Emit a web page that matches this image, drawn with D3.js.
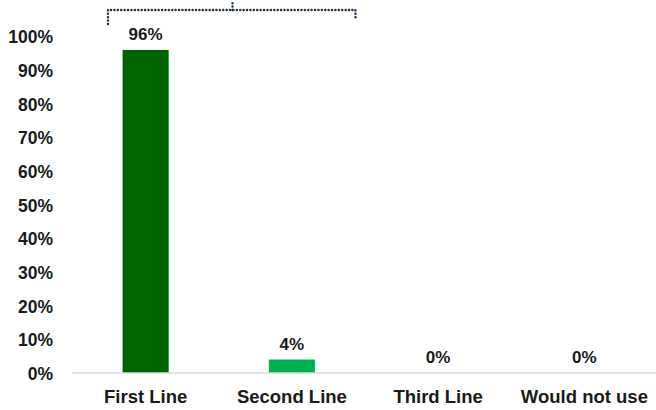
<!DOCTYPE html>
<html>
<head>
<meta charset="utf-8">
<script src="https://cdn.jsdelivr.net/npm/d3@7"></script>
<style>
  body { margin: 0; background: #fff; }
  text { font-family: "Liberation Sans", Arial, sans-serif; font-weight: bold; fill: #1a1a1a; }
</style>
</head>
<body>
<svg id="chart" width="656" height="410"></svg>
<script>
// chart data
var categories = ["First Line", "Second Line", "Third Line", "Would not use"];
var values = [96, 4, 0, 0];
var barColors = ["#006400", "#00b050", "#00b050", "#00b050"];
var yTicks = [0, 10, 20, 30, 40, 50, 60, 70, 80, 90, 100];

var svg = d3.select("#chart"),
    mLeft = 72.5, mRight = 657.5,
    mTop = 36.5, mBottom = 373;

var x = d3.scaleBand()
  .domain(categories)
  .range([mLeft, mRight])
  .paddingInner(0.685)
  .paddingOuter(0.3425);

var y = d3.scaleLinear().domain([0, 100]).range([mBottom, mTop]);

// y tick labels (no axis line)
var yAxis = d3.axisLeft(y)
  .tickValues(yTicks)
  .tickSize(0)
  .tickPadding(0)
  .tickFormat(function(d) { return d + "%"; });

var gy = svg.append("g").attr("transform", "translate(53,0)").call(yAxis);
gy.select(".domain").remove();
gy.selectAll("text").style("font-size", "17.5px").attr("dy", "0.36em");

// bars
svg.selectAll("rect.bar")
  .data(values)
  .enter().append("rect")
  .attr("class", "bar")
  .attr("x", function(d, i) { return x(categories[i]); })
  .attr("width", x.bandwidth())
  .attr("y", function(d) { return y(d); })
  .attr("height", function(d) { return mBottom - y(d); })
  .attr("fill", function(d, i) { return barColors[i]; });

// baseline
var xAxis = d3.axisBottom(x).tickSize(0).tickPadding(0);
var gx = svg.append("g").attr("transform", "translate(0," + mBottom + ")").call(xAxis);
gx.select(".domain").attr("stroke", "#d9d9d9").attr("stroke-width", 1.5)
  .attr("d", "M" + mLeft + ",0H" + mRight);
gx.selectAll("text").style("font-size", "18.5px").attr("dy", "0").attr("y", 30);

// value labels
svg.selectAll("text.val")
  .data(values)
  .enter().append("text")
  .attr("class", "val")
  .attr("x", function(d, i) { return x(categories[i]) + x.bandwidth() / 2; })
  .attr("y", function(d) { return y(d) - 10; })
  .attr("text-anchor", "middle")
  .style("font-size", "17px")
  .text(function(d) { return d + "%"; });

// dotted bracket over first two bars
var bx0 = 108, bx1 = 355.5, by = 10;
var bracket = svg.append("g")
  .attr("fill", "none")
  .attr("stroke", "#1f2a4d")
  .attr("stroke-width", 2.4)
  .attr("stroke-linecap", "round")
  .attr("stroke-dasharray", "0.1,3.3");
bracket.append("path").attr("d", "M" + bx0 + "," + (by + 14) + "V" + by + "H" + bx1 + "V" + (by + 10));
bracket.append("path").attr("d", "M232.5," + by + "V0");
</script>
</body>
</html>
